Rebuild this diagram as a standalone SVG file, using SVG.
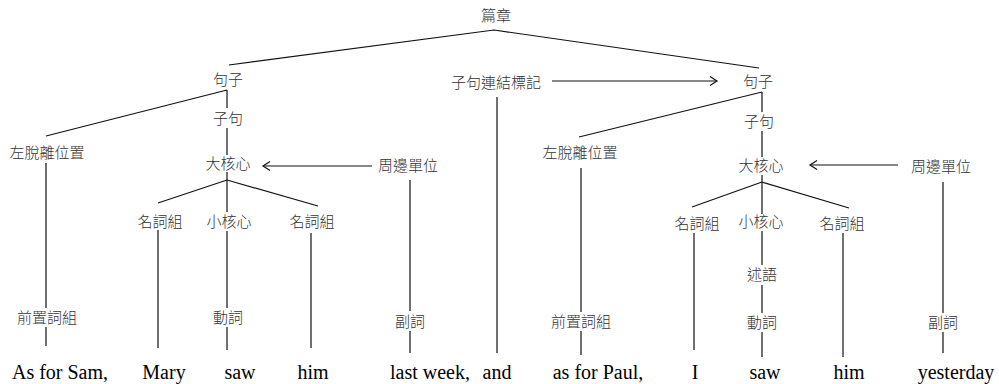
<svg xmlns="http://www.w3.org/2000/svg" width="999" height="384" viewBox="0 0 999 384">
<defs>
<style>
.l{stroke:#111;stroke-width:1.2;fill:none}
.c{font-family:"Liberation Serif","Noto Sans CJK TC",serif;font-size:15px;font-weight:300;fill:#333;text-anchor:middle}
.w{font-family:"Liberation Serif",serif;font-size:20px;fill:#000;text-anchor:middle}
</style>
<marker id="ah" markerWidth="10" markerHeight="10" refX="8" refY="5" orient="auto" markerUnits="userSpaceOnUse">
<path d="M1,0.5 L8,5 L1,9.5" fill="none" stroke="#111" stroke-width="1.2"/>
</marker>
</defs>
<rect width="999" height="384" fill="#fff"/>
<g id="connectors">
<polyline class="l" points="229,65 494,30 759,68"/>
<line class="l" x1="227" y1="90" x2="46" y2="136"/>
<line class="l" x1="227" y1="90" x2="227" y2="108"/>
<line class="l" x1="227" y1="128" x2="227" y2="155"/>
<line class="l" x1="227" y1="172" x2="227" y2="212"/>
<line class="l" x1="227" y1="180" x2="158" y2="203"/>
<line class="l" x1="227" y1="180" x2="318" y2="206"/>
<line class="l" x1="158" y1="230" x2="158" y2="348"/>
<line class="l" x1="227" y1="231" x2="227" y2="308"/>
<line class="l" x1="227" y1="327" x2="227" y2="350"/>
<line class="l" x1="311" y1="233" x2="311" y2="348"/>
<line class="l" x1="46" y1="163" x2="46" y2="308"/>
<line class="l" x1="46" y1="327" x2="46" y2="346"/>
<line class="l" x1="372" y1="166" x2="263" y2="166" marker-end="url(#ah)"/>
<line class="l" x1="410" y1="180" x2="410" y2="311"/>
<line class="l" x1="410" y1="331" x2="410" y2="353"/>
<line class="l" x1="552" y1="81" x2="717" y2="81" marker-end="url(#ah)"/>
<line class="l" x1="497" y1="97" x2="497" y2="353"/>
<line class="l" x1="762" y1="92" x2="579" y2="137"/>
<line class="l" x1="762" y1="92" x2="762" y2="112"/>
<line class="l" x1="762" y1="131" x2="762" y2="157"/>
<line class="l" x1="762" y1="175" x2="762" y2="214"/>
<line class="l" x1="762" y1="182" x2="692" y2="207"/>
<line class="l" x1="762" y1="182" x2="849" y2="208"/>
<line class="l" x1="694" y1="233" x2="694" y2="350"/>
<line class="l" x1="762" y1="231" x2="762" y2="265"/>
<line class="l" x1="762" y1="285" x2="762" y2="313"/>
<line class="l" x1="762" y1="332" x2="762" y2="357"/>
<line class="l" x1="843" y1="233" x2="843" y2="357"/>
<line class="l" x1="898" y1="165" x2="810" y2="165" marker-end="url(#ah)"/>
<line class="l" x1="943" y1="182" x2="943" y2="313"/>
<line class="l" x1="943" y1="332" x2="943" y2="353"/>
<line class="l" x1="581" y1="168" x2="581" y2="312"/>
<line class="l" x1="581" y1="331" x2="581" y2="355"/>
</g>
<g id="n-pianzhang"><text class="c" x="496" y="21">篇章</text></g>
<g id="n-juzi1"><text class="c" x="228" y="85">句子</text></g>
<g id="n-ziju1"><text class="c" x="228" y="124">子句</text></g>
<g id="n-dahexin1"><text class="c" x="228" y="169">大核心</text></g>
<g id="n-zuotuoli1"><text class="c" x="47" y="158">左脫離位置</text></g>
<g id="n-qianzhi1"><text class="c" x="47" y="323">前置詞組</text></g>
<g id="n-zhoubian1"><text class="c" x="408" y="171">周邊單位</text></g>
<g id="n-fuci1"><text class="c" x="410" y="327">副詞</text></g>
<g id="n-mingci1a"><text class="c" x="160" y="227">名詞組</text></g>
<g id="n-xiaohexin1"><text class="c" x="229" y="227">小核心</text></g>
<g id="n-mingci1b"><text class="c" x="312" y="227">名詞組</text></g>
<g id="n-dongci1"><text class="c" x="228" y="323">動詞</text></g>
<g id="n-lianjie"><text class="c" x="496" y="88">子句連結標記</text></g>
<g id="n-juzi2"><text class="c" x="758" y="87">句子</text></g>
<g id="n-ziju2"><text class="c" x="759" y="127">子句</text></g>
<g id="n-dahexin2"><text class="c" x="761" y="171">大核心</text></g>
<g id="n-zuotuoli2"><text class="c" x="580" y="158">左脫離位置</text></g>
<g id="n-qianzhi2"><text class="c" x="581" y="327">前置詞組</text></g>
<g id="n-zhoubian2"><text class="c" x="941" y="172">周邊單位</text></g>
<g id="n-fuci2"><text class="c" x="943" y="328">副詞</text></g>
<g id="n-mingci2a"><text class="c" x="697" y="229">名詞組</text></g>
<g id="n-xiaohexin2"><text class="c" x="761" y="227">小核心</text></g>
<g id="n-mingci2b"><text class="c" x="842" y="229">名詞組</text></g>
<g id="n-shuyu"><text class="c" x="762" y="280">述語</text></g>
<g id="n-dongci2"><text class="c" x="762" y="328">動詞</text></g>
<g id="words">
<text class="w" x="60" y="379">As for Sam,</text>
<text class="w" x="164" y="379">Mary</text>
<text class="w" x="240" y="379">saw</text>
<text class="w" x="313" y="379">him</text>
<text class="w" x="430" y="379">last week,</text>
<text class="w" x="497" y="379">and</text>
<text class="w" x="598" y="379">as for Paul,</text>
<text class="w" x="695" y="379">I</text>
<text class="w" x="765" y="379">saw</text>
<text class="w" x="849" y="379">him</text>
<text class="w" x="956" y="379">yesterday</text>
</g>
</svg>
